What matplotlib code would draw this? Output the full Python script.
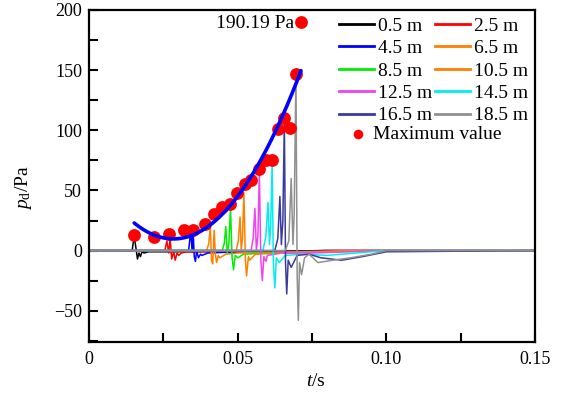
import numpy as np
import matplotlib
matplotlib.use("Agg")
import matplotlib.pyplot as plt
from matplotlib.ticker import MultipleLocator

plt.rcParams['font.family'] = 'Liberation Serif'
plt.rcParams['mathtext.fontset'] = 'custom'
plt.rcParams['mathtext.rm'] = 'Liberation Serif'
plt.rcParams['mathtext.it'] = 'Liberation Serif:italic'
plt.rcParams['font.size'] = 13

# sensor labels and colours
labels = ['0.5 m', '2.5 m', '4.5 m', '6.5 m', '8.5 m',
          '10.5 m', '12.5 m', '14.5 m', '16.5 m', '18.5 m']
colors = ['black', 'red', '#0000ff', '#ff8000', '#00ee00',
          '#ff8000', '#ee44ee', '#00eeee', '#3a3aa0', '#909090']

# pressure traces (t in s, p in Pa), vertices
t_05 = [0, 0.0145, 0.0152, 0.0158, 0.0163, 0.0168, 0.0173, 0.0178, 0.0185, 0.020, 0.03, 0.06, 0.08, 0.15]
p_05 = [0, 0, 12, 2, -7, -2, -5, -1, -2, -1, -1, -0.5, 0, 0]
t_25 = [0, 0.0255, 0.0262, 0.0268, 0.0273, 0.0278, 0.0285, 0.029, 0.0296, 0.0302, 0.031, 0.033, 0.05, 0.08, 0.15]
p_25 = [0, 0, 8, -2, 10, -7, -1, -8, -2, -4, -2, -1, -1, 0, 0]
t_45 = [0, 0.0335, 0.0342, 0.0347, 0.035, 0.0354, 0.0358, 0.0362, 0.0368, 0.0375, 0.038, 0.040, 0.045, 0.06, 0.08, 0.15]
p_45 = [0, 0, 16, -1, 17, -5, -9, 0, -6, -3, -4, -2, -1.5, -1, 0, 0]
t_65 = [0, 0.0395, 0.0402, 0.0408, 0.0412, 0.0416, 0.0421, 0.0425, 0.0429, 0.0435, 0.044, 0.046, 0.05, 0.07, 0.09, 0.15]
p_65 = [0, 0, 5, 19, -8, -11, 17, -3, -10, -4, -6, -3, -2, -1, 0, 0]
t_85 = [0, 0.0448, 0.0455, 0.046, 0.0465, 0.047, 0.0476, 0.0481, 0.0486, 0.0492, 0.05, 0.052, 0.06, 0.08, 0.1, 0.15]
p_85 = [0, 0, 6, 20, -2, 5, 35, -5, -16, -4, -6, -3, -2, -1, 0, 0]
t_105 = [0, 0.0495, 0.0502, 0.0508, 0.0512, 0.0516, 0.0521, 0.0526, 0.053, 0.0536, 0.054, 0.056, 0.065, 0.09, 0.15]
p_105 = [0, 0, 8, 28, 0, 10, 48, -8, -21, -5, -8, -3, -2, 0, 0]
t_125 = [0, 0.0545, 0.0552, 0.0558, 0.0563, 0.0568, 0.0573, 0.0578, 0.0583, 0.0588, 0.0595, 0.06, 0.065, 0.075, 0.1, 0.15]
p_125 = [0, 0, 10, 35, 0, 12, 65, -8, -25, -5, -9, -4, -2, -2, 0, 0]
t_145 = [0, 0.0585, 0.0595, 0.0602, 0.0607, 0.0611, 0.0616, 0.062, 0.0625, 0.063, 0.064, 0.066, 0.072, 0.08, 0.1, 0.15]
p_145 = [0, 0, 12, 40, 5, 20, 73, -10, -31, -6, -10, -4, -3, -4, 0, 0]
t_165 = [0, 0.0625, 0.0635, 0.0642, 0.0647, 0.0652, 0.0657, 0.0661, 0.0665, 0.067, 0.068, 0.07, 0.074, 0.078, 0.085, 0.092, 0.1, 0.15]
p_165 = [0, 0, 10, 45, 5, 25, 108, -10, -36, -8, -14, -4, -3, -6, -8, -5, -1, 0]
t_185 = [0, 0.066, 0.0672, 0.068, 0.0686, 0.069, 0.0696, 0.07, 0.0704, 0.0708, 0.0715, 0.0725, 0.074, 0.077, 0.082, 0.088, 0.095, 0.1, 0.15]
p_185 = [0, 0, 8, 60, 5, 30, 146, -20, -58, -10, -20, -6, -3, -10, -8, -6, -3, 0, 0]

traces_t = [t_05, t_25, t_45, t_65, t_85, t_105, t_125, t_145, t_165, t_185]
traces_p = [p_05, p_25, p_45, p_65, p_85, p_105, p_125, p_145, p_165, p_185]

# maximum values
max_t = [0.0152, 0.0220, 0.0270, 0.0320, 0.0350, 0.0389, 0.0419, 0.0446, 0.0473, 0.0498,
         0.0523, 0.0546, 0.0572, 0.0595, 0.0617, 0.0636, 0.0656, 0.0676, 0.0696, 0.0713]
max_p = [13, 11, 13.5, 17.5, 17.5, 22.5, 30.5, 36, 39, 47.5,
         55, 59, 68, 75, 75, 101, 110, 102, 146.5, 190.19]

# quadratic fit: p = a*(t - t0)^2 + c
fit_a = 76000.0
fit_t0 = 0.0284
fit_c = 9.7
fit_range = (0.0152, 0.0713)


def main():
    fig = plt.figure(figsize=(5.68, 3.94), dpi=100)
    ax = fig.add_axes([89 / 568, 52 / 394, 446 / 568, 332 / 394])

    lines = []
    for t, p, c, lab in zip(traces_t, traces_p, colors, labels):
        ln, = ax.plot(t, p, color=c, lw=1.1, label=lab)
        lines.append(ln)

    sc = ax.scatter(max_t, max_p, s=85, color='#ff0000', zorder=5, linewidths=0,
                    label='Maximum value')

    tf = np.linspace(fit_range[0], fit_range[1], 200)
    ax.plot(tf, fit_a * (tf - fit_t0) ** 2 + fit_c, color='#0000ff', lw=2.6,
            zorder=6, solid_capstyle='round')

    ax.text(max_t[-1] - 0.0024, max_p[-1] - 1, '190.19 Pa', ha='right', va='center',
            fontsize=14)

    ax.set_xlim(0, 0.15)
    ax.set_ylim(-76, 200)
    ax.xaxis.set_minor_locator(MultipleLocator(0.025))
    ax.yaxis.set_minor_locator(MultipleLocator(25))
    ax.set_xticks([0, 0.05, 0.10, 0.15])
    ax.set_xticklabels(['0', '0.05', '0.10', '0.15'])
    ax.set_yticks([-50, 0, 50, 100, 150, 200])
    ax.set_yticklabels(['\u221250', '0', '50', '100', '150', '200'])
    ax.tick_params(which='both', direction='in', length=6.5, width=1.5, top=False, right=False)
    ax.tick_params(axis='x', pad=6.5)
    ax.tick_params(axis='y', pad=5)
    for s in ax.spines.values():
        s.set_linewidth(1.6)

    ax.set_xlabel(r'$t$/s', fontsize=14)
    ax.set_ylabel(r'$p_{\rm d}$/Pa', fontsize=14)
    ax.xaxis.set_label_coords(0.509, -0.093)
    ax.yaxis.set_label_coords(-0.124, 0.464)

    # legend for the sensors: two columns
    handles = [lines[i] for i in [0, 2, 4, 6, 8, 1, 3, 5, 7, 9]]
    leg = ax.legend(handles=handles, ncol=2, loc='upper left',
                    bbox_to_anchor=(339 / 568, 1 - 17 / 394), bbox_transform=fig.transFigure,
                    frameon=False, handlelength=1.8, handletextpad=0.2, columnspacing=0.15,
                    labelspacing=0.25, borderaxespad=0, borderpad=0, fontsize=14)
    for h in leg.legend_handles:
        h.set_linewidth(2.0)
    ax.add_artist(leg)

    # separate line for the maximum values
    ax.legend(handles=[sc], loc='upper left',
              bbox_to_anchor=(348 / 568, 1 - 125 / 394), bbox_transform=fig.transFigure,
              frameon=False, handlelength=1.0, handletextpad=0.3, borderaxespad=0,
              borderpad=0, markerscale=0.75, fontsize=14)

    fig.savefig('out.png', dpi=100)


if __name__ == "__main__":
    main()
